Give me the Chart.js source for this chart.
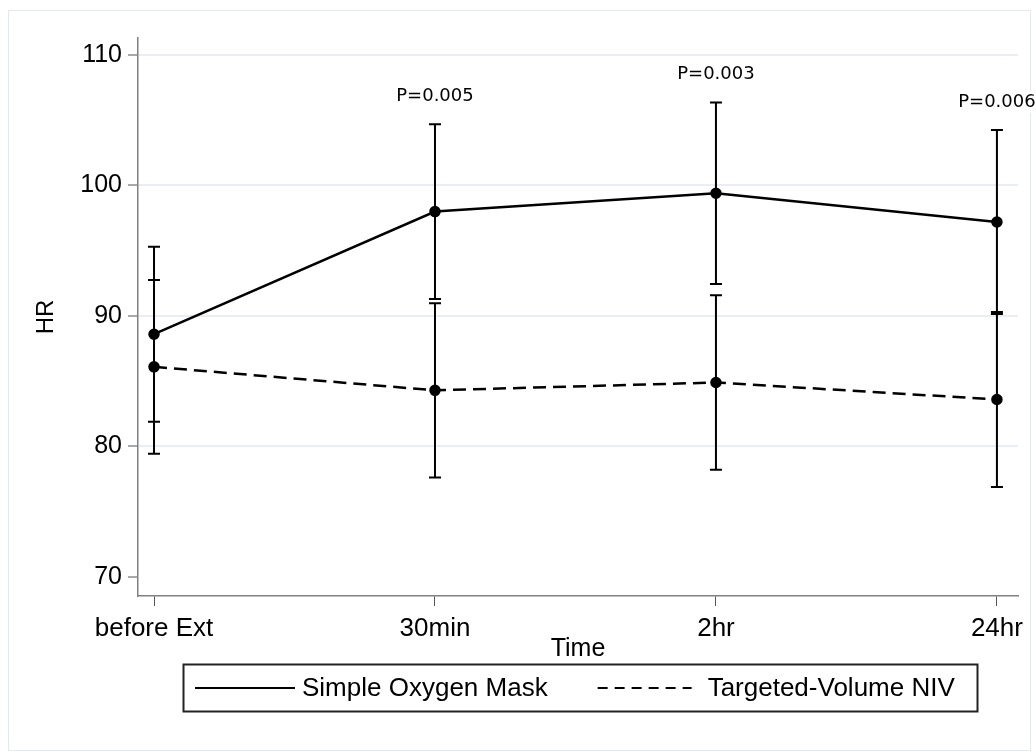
<!DOCTYPE html>
<html>
<head>
<meta charset="utf-8">
<script src="https://cdn.jsdelivr.net/npm/chart.js@4"></script>
<style>
  html, body { margin: 0; padding: 0; background: #fff; }
  #wrap { width: 1036px; height: 753px; }
</style>
</head>
<body>
<div id="wrap"><canvas id="hrChart"></canvas></div>
<script>
// data
const categories = ["before Ext", "30min", "2hr", "24hr"];
const maskMean = [88.6, 98.0, 99.4, 97.2];
const maskSd = [6.7, 6.7, 6.95, 7.05];
const nivMean = [86.1, 84.3, 84.9, 83.6];
const nivSd = [6.65, 6.67, 6.68, 6.7];
const pLabels = ["", "P=0.005", "P=0.003", "P=0.006"];
const yTicks = [70, 80, 90, 100, 110];

const AXIS_FONT = "'Liberation Sans', Arial, sans-serif";

function toPoints(arr) {
    return arr.map((v, i) => ({ x: i, y: v }));
}

// faint outer frame (stata graph region)
const frame = {
    id: "frame",
    beforeDraw(chart) {
        const c = chart.ctx;
        c.save();
        c.strokeStyle = "#e3eaee";
        c.lineWidth = 1;
        c.strokeRect(8.5, 10.5, 1022, 740);
        c.restore();
    }
};

// error bars (mean +/- sd) for both groups
const errorBars = {
    id: "errorBars",
    beforeDatasetsDraw(chart) {
        const c = chart.ctx;
        const xs = chart.scales.x, ys = chart.scales.y;
        const groups = [[maskMean, maskSd], [nivMean, nivSd]];
        c.save();
        c.strokeStyle = "#000";
        c.lineWidth = 2;
        groups.forEach(([m, sd]) => {
            m.forEach((v, i) => {
                const x = xs.getPixelForValue(i);
                const top = ys.getPixelForValue(v + sd[i]);
                const bot = ys.getPixelForValue(v - sd[i]);
                c.beginPath();
                c.moveTo(x, top); c.lineTo(x, bot);
                c.moveTo(x - 6, top); c.lineTo(x + 6, top);
                c.moveTo(x - 6, bot); c.lineTo(x + 6, bot);
                c.stroke();
            });
        });
        c.restore();
    }
};

// p-values above the upper bars
const pText = {
    id: "pText",
    afterDatasetsDraw(chart) {
        const c = chart.ctx;
        const xs = chart.scales.x, ys = chart.scales.y;
        c.save();
        c.font = "18px 'DejaVu Sans', sans-serif";
        c.textAlign = "center";
        c.textBaseline = "middle";
        pLabels.forEach((t, i) => {
            if (!t) return;
            const x = xs.getPixelForValue(i);
            const y = ys.getPixelForValue(maskMean[i] + maskSd[i]) - 28;
            c.fillStyle = "#fff";
            c.fillRect(x - 58, y - 11, 118, 22);
            c.fillStyle = "#000";
            c.fillText(t, x, y);
        });
        c.restore();
    }
};

// boxed legend like the original
const boxLegend = {
    id: "boxLegend",
    afterDraw(chart) {
        const c = chart.ctx;
        const ds = chart.data.datasets;
        c.save();
        c.font = "26px " + AXIS_FONT;
        c.textBaseline = "middle";
        const sampleW = [100, 94];
        const textGap = [7, 16];
        const itemGap = 50;
        const padL = 12, padR = 22;
        const widths = ds.map((d, i) => sampleW[i] + textGap[i] + c.measureText(d.label).width);
        const total = widths[0] + itemGap + widths[1];
        const cx = 580, cy = 688;
        const boxW = Math.round(total + padL + padR);
        const boxX = Math.round(cx - boxW / 2);
        let x = boxX + padL;
        c.strokeStyle = "#222";
        c.lineWidth = 2;
        c.strokeRect(boxX + 0.5, cy - 23.5, boxW, 47);
        ds.forEach((d, i) => {
            c.strokeStyle = "#000";
            c.lineWidth = 2;
            c.setLineDash(i === 0 ? [] : [10, 7]);
            c.beginPath();
            c.moveTo(x, cy); c.lineTo(x + sampleW[i], cy);
            c.stroke();
            c.setLineDash([]);
            c.fillStyle = "#000";
            c.fillText(d.label, x + sampleW[i] + textGap[i], cy + 1);
            x += widths[i] + itemGap;
        });
        c.restore();
    }
};

const ctx = document.getElementById("hrChart").getContext("2d");
const hrChart = new Chart(ctx, {
    type: "line",
    data: {
        datasets: [
            {
                label: "Simple Oxygen Mask",
                data: toPoints(maskMean),
                borderColor: "#000",
                backgroundColor: "#000",
                borderWidth: 2.5,
                pointRadius: 4.5,
                pointBackgroundColor: "#000",
                tension: 0
            },
            {
                label: "Targeted-Volume NIV",
                data: toPoints(nivMean),
                borderColor: "#000",
                backgroundColor: "#000",
                borderWidth: 2.5,
                borderDash: [13, 7],
                pointRadius: 4.5,
                pointBackgroundColor: "#000",
                tension: 0
            }
        ]
    },
    options: {
        responsive: true,
        maintainAspectRatio: false,
        animation: false,
        layout: { padding: { top: 38, right: 18, bottom: 87, left: 0 } },
        plugins: {
            legend: { display: false },
            tooltip: { enabled: false }
        },
        scales: {
            x: {
                type: "linear",
                min: -0.057,
                max: 3.075,
                afterBuildTicks: s => { s.ticks = categories.map((c, i) => ({ value: i })); },
                afterFit: s => { s.height = 70; },
                border: { color: "#808080", width: 1.5 },
                grid: { drawOnChartArea: false, tickLength: 10, tickColor: "#555", tickWidth: 1 },
                ticks: {
                    callback: v => categories[v],
                    color: "#000",
                    padding: 7,
                    maxRotation: 0,
                    font: { family: AXIS_FONT, size: 26 }
                },
                title: {
                    display: true,
                    text: "Time",
                    color: "#000",
                    padding: { top: 0, bottom: 2 },
                    font: { family: AXIS_FONT, size: 25 }
                }
            },
            y: {
                min: 68.54,
                max: 111.3,
                afterBuildTicks: s => { s.ticks = yTicks.map(v => ({ value: v })); },
                afterFit: s => { s.width = 138; },
                border: { color: "#808080", width: 1.5 },
                grid: {
                    color: c => (c.tick && c.tick.value === 70 ? "rgba(0,0,0,0)" : "#e8eef1"),
                    lineWidth: 2,
                    tickLength: 10,
                    tickColor: "#555",
                    tickWidth: 1
                },
                ticks: {
                    color: "#000",
                    padding: 6,
                    font: { family: AXIS_FONT, size: 25 }
                },
                title: {
                    display: true,
                    text: "HR",
                    color: "#000",
                    padding: { top: 32, bottom: 0 },
                    font: { family: AXIS_FONT, size: 24 }
                }
            }
        }
    },
    plugins: [frame, errorBars, pText, boxLegend]
});
</script>
</body>
</html>
